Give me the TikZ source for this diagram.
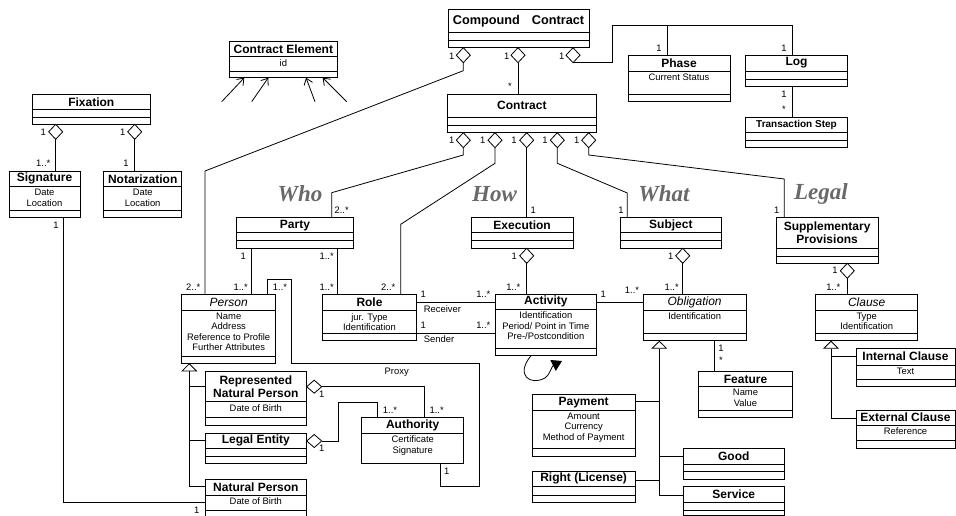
\documentclass[tikz,border=0pt]{standalone}
\usepackage{fontspec}
\setmainfont{Liberation Sans}
\newfontfamily\serifbi{Liberation Serif}
\usetikzlibrary{shapes.geometric,arrows.meta}
\definecolor{lblgray}{RGB}{105,105,105}
\newcounter{mlc}
\newcommand{\uml}[9]{%
  \node[box, minimum width={(#4)-(#2)}, minimum height={(#5)-(#3)}, anchor=north west] (#1) at (#2,#3) {};
  \draw[sepl] (#2,#6) -- (#4,#6);
  \draw[sepl] (#2,#7) -- (#4,#7);
  \node[ttl] (#1-t) at ({((#2)+(#4))/2},{((#3)+(#6))/2}) {#8};
  \node[att] (#1-a) at ({((#2)+(#4))/2},#6) {#9};
}
\newcommand{\dd}[3]{\node[dia,anchor=north] (#1) at (#2,#3) {};}
\newcommand{\ml}[3]{\stepcounter{mlc}\node[mult] (m\arabic{mlc}) at (#1,#2) {#3};}
\begin{document}
\begin{tikzpicture}[x=1pt,y=-1pt,
  box/.style={draw, line width=0.9pt, inner sep=0pt, outer sep=0pt, fill=white},
  sepl/.style={line width=0.8pt},
  ttl/.style={font=\fontsize{12}{13.3}\selectfont\bfseries, align=center, inner sep=0pt},
  att/.style={font=\fontsize{9.4}{10.4}\selectfont, align=center, anchor=north, inner xsep=0pt, inner ysep=2.6pt},
  mult/.style={font=\fontsize{9.4}{10}\selectfont, inner sep=0pt},
  conn/.style={line width=0.8pt},
  dia/.style={diamond, draw, fill=white, line width=0.8pt, inner sep=0pt, outer sep=0pt, minimum width=14pt, minimum height=15pt},
  hdia/.style={dia, minimum width=15pt, minimum height=13pt, anchor=west},
  gen/.style={conn, -{Triangle[open, length=8pt, width=16pt]}},
  nav/.style={conn, -{Straight Barb[length=6pt, width=9pt]}},
  loopa/.style={conn, -{Triangle[length=10pt, width=12pt]}},
  big/.style={font=\serifbi\fontsize{23}{25}\selectfont\bfseries\itshape, text=lblgray, inner sep=0pt}
]
\clip (0,0) rectangle (956,516);
\fill[white] (0,0) rectangle (956,516);

% ---------- classes ----------
\uml{cc}{448}{9.3}{589}{47.7}{32.3}{40}{\fontsize{12.7}{14}\selectfont Compound\hspace{12pt}Contract}{}
\uml{ce}{229}{41.7}{337.7}{77.7}{56.7}{71.3}{Contract Element}{id}
\uml{phase}{628}{55}{730}{101.7}{71}{94.3}{Phase}{Current Status}
\uml{log}{745.3}{55}{847.7}{86.7}{71}{79}{Log}{}
\uml{ts}{745.3}{117.3}{847.7}{147.7}{132.7}{140}{\fontsize{10}{12}\selectfont Transaction Step}{}
\uml{contract}{447.7}{94.3}{596}{132.7}{117.3}{125.3}{Contract}{}
\uml{fix}{32.3}{94.3}{150.3}{124.3}{109.3}{117.3}{Fixation}{}
\uml{sig}{9}{171}{80}{217.3}{186.7}{210}{Signature}{Date\\Location}
\uml{nota}{103.7}{171}{181.7}{217.3}{186.7}{210}{Notarization}{Date\\Location}
\uml{party}{236.7}{217.7}{353.3}{248.3}{232.7}{240.7}{Party}{}
\uml{exec}{471}{217.7}{573.3}{248.3}{232.7}{240.7}{Execution}{}
\uml{subj}{620}{217.7}{721.7}{248.3}{232.7}{240.7}{Subject}{}
\uml{supp}{776}{217.7}{878.3}{263.3}{248.3}{256}{Supplementary\\Provisions}{}
\uml{person}{181.7}{294.3}{275.7}{363.3}{310}{356}{\mdseries\itshape Person}{Name\\Address\\Reference to Profile\\Further Attributes}
\uml{role}{322.3}{294.3}{416.7}{340}{310.7}{333.3}{Role}{jur. Type\\Identification}
\uml{act}{495}{294.3}{596.7}{355.7}{309.3}{348.3}{Activity}{Identification\\Period/ Point in Time\\Pre-/Postcondition}
\uml{obl}{643.3}{294.3}{746}{340.7}{310}{333.3}{\mdseries\itshape Obligation}{Identification}
\uml{clause}{815.7}{294.3}{917.7}{340.7}{310}{333.3}{\mdseries\itshape Clause}{Type\\Identification}
\uml{rnp}{205}{371.7}{306.7}{425}{401.7}{417.3}{Represented\\Natural Person}{Date of Birth}
\uml{le}{205}{433.3}{306.7}{463.3}{448.3}{456}{Legal Entity}{}
\uml{np}{205}{479.3}{306.7}{522}{495}{510}{Natural Person}{Date of Birth}
\uml{auth}{361.7}{417.7}{463.7}{463.3}{433.3}{463.3}{Authority}{Certificate\\Signature}
\uml{feat}{698.3}{371.7}{792.7}{417.7}{386.7}{410}{Feature}{Name\\Value}
\uml{pay}{532.3}{394.3}{635}{456}{410}{448.3}{Payment}{Amount\\Currency\\Method of Payment}
\uml{right}{532.3}{471}{635}{502.3}{486.7}{495}{Right (License)}{}
\uml{good}{683.3}{448.3}{784.3}{479.3}{464.3}{471.7}{Good}{}
\uml{serv}{683.3}{486.7}{784.3}{515.5}{502.3}{510}{Service}{}
\uml{ic}{856}{348.3}{955}{386.7}{365}{379.3}{Internal Clause}{Text}
\uml{ec}{856}{410}{955}{448.3}{425}{440}{External Clause}{Reference}

% ---------- section headings ----------
\node[big] (who) at (300,194) {Who};
\node[big] (how) at (494.5,194) {How};
\node[big] (what) at (664,194) {What};
\node[big] (legal) at (821,194) {Legal};

% ---------- Compound Contract ----------
\coordinate (a1) at (463.3,70.7); \coordinate (a2) at (205,171);
\coordinate (b1) at (612,25); \coordinate (b2) at (667,25); \coordinate (b3) at (792,25);
\dd{dcc1}{463.3}{47.7}\dd{dcc2}{518}{47.7}\dd{dcc3}{573}{47.7}
\draw[conn] (dcc1.south) -- (a1) -- (a2) -- (a2 |- person.north);
\draw[conn] (dcc2.south) -- (dcc2.south |- contract.north);
\draw[conn] (dcc3.south) -| (b1) -- (b3) -- (b3 |- log.north);
\draw[conn] (b2) -- (b2 |- phase.north);
\draw[conn] (b3 |- log.south) -- (b3 |- ts.north);

% ---------- Contract ----------
\dd{dc1}{463.3}{132.7}\dd{dc2}{495}{132.7}\dd{dc3}{526.7}{132.7}\dd{dc4}{557.3}{132.7}\dd{dc5}{588.7}{132.7}
\coordinate (e1) at (463.3,155); \coordinate (e2) at (331.7,192.7);
\draw[conn] (dc1.south) -- (e1) -- (e2) -- (e2 |- party.north);
\coordinate (f1) at (495,163.3); \coordinate (f2) at (400.7,224.3);
\draw[conn] (dc2.south) -- (f1) -- (f2) -- (f2 |- role.north);
\draw[conn] (dc3.south) -- (dc3.south |- exec.north);
\coordinate (h1) at (557.3,163.3); \coordinate (h2) at (627.3,193);
\draw[conn] (dc4.south) -- (h1) -- (h2) -- (h2 |- subj.north);
\coordinate (i1) at (588.7,155); \coordinate (i2) at (784.3,179);
\draw[conn] (dc5.south) -- (i1) -- (i2) -- (i2 |- supp.north);

% ---------- Party ----------
\coordinate (pp) at (251.7,0); \coordinate (pr) at (337.7,0);
\draw[conn] (pp |- party.south) -- (pp |- person.north);
\draw[conn] (pr |- party.south) -- (pr |- role.north);

% ---------- Proxy ----------
\coordinate (x1) at (267.7,279); \coordinate (x2) at (291,279); \coordinate (x3) at (291,363.3);
\coordinate (x4) at (479.3,363.3); \coordinate (x5) at (479.3,486.7); \coordinate (x6) at (440,486.7);
\draw[conn] (x1 |- person.north) -- (x1) -- (x2) -- (x3) -- (x4) -- (x5) -- (x6) -- (x6 |- auth.south);

% ---------- Execution / Activity ----------
\dd{dex}{526.7}{248.3}
\draw[conn] (dex.south) -- (dex.south |- act.north);
\coordinate (r1) at (0,302.3); \coordinate (r2) at (0,333.3);
\draw[conn] (r1 -| role.east) -- (r1 -| act.west);
\draw[conn] (r2 -| role.east) -- (r2 -| act.west);
\draw[conn] (r1 -| act.east) -- (r1 -| obl.west);
\coordinate (lpe) at (562,361);
\draw[loopa] ([xshift=36pt]act.south west) .. controls (515,375) and (530,386) .. (545,378) .. controls (549,376) and (552,366) .. (lpe);

% ---------- Subject / Obligation ----------
\dd{dsu}{682.7}{248.3}
\draw[conn] (dsu.south) -- (dsu.south |- obl.north);
\coordinate (ft) at (714,0);
\draw[conn] (ft |- obl.south) -- (ft |- feat.north);
\coordinate (g2) at (659.3,495); \coordinate (g2a) at (659.3,401.7);
\coordinate (g2b) at (659.3,456.7); \coordinate (g2c) at (659.3,480);
\draw[gen] (g2) -- (g2 |- obl.south);
\draw[conn] (g2a) -- (g2a -| pay.east);
\draw[conn] (g2b) -- (g2b -| good.west);
\draw[conn] (g2c) -- (g2c -| right.east);
\draw[conn] (g2) -- (g2 -| serv.west);

% ---------- Supplementary / Clause ----------
\dd{dsp}{847.3}{263.3}
\draw[conn] (dsp.south) -- (dsp.south |- clause.north);
\coordinate (g3) at (831,418.3); \coordinate (g3a) at (831,356.7);
\draw[gen] (g3) -- (g3 |- clause.south);
\draw[conn] (g3a) -- (g3a -| ic.west);
\draw[conn] (g3) -- (g3 -| ec.west);

% ---------- Person generalization ----------
\coordinate (g1) at (189.3,486.7); \coordinate (g1a) at (189.3,386.7); \coordinate (g1b) at (189.3,440.7);
\draw[gen] (g1) -- (g1 |- person.south);
\draw[conn] (g1a) -- (g1a -| rnp.west);
\draw[conn] (g1b) -- (g1b -| le.west);
\draw[conn] (g1) -- (g1 -| np.west);

% ---------- Fixation ----------
\dd{dfx1}{55.7}{124.3}\dd{dfx2}{134.7}{124.3}
\draw[conn] (dfx1.south) -- (dfx1.south |- sig.north);
\draw[conn] (dfx2.south) -- (dfx2.south |- nota.north);
\coordinate (s1) at (63.3,502.3);
\draw[conn] (s1 |- sig.south) -- (s1) -- (s1 -| np.west);

% ---------- Authority ----------
\node[hdia] (drnp) at (306.7,386.7) {};
\node[hdia] (dle) at (306.7,441) {};
\coordinate (t1) at (424.3,386.7);
\draw[conn] (drnp.east) -- (t1) -- (t1 |- auth.north);
\coordinate (u1) at (338.3,441); \coordinate (u2) at (338.3,402.3); \coordinate (u3) at (377.3,402.3);
\draw[conn] (dle.east) -- (u1) -- (u2) -- (u3) -- (u3 |- auth.north);

% ---------- Contract Element arrows ----------
\coordinate (ce1) at (221.7,101.7); \coordinate (ce2) at (251.7,101.7);
\coordinate (ce3) at (315,101.7); \coordinate (ce4) at (346.7,101.7);
\draw[nav] (ce1) -- ([xshift=15.3pt]ce.south west);
\draw[nav] (ce2) -- ([xshift=39.3pt]ce.south west);
\draw[nav] (ce3) -- ([xshift=77pt]ce.south west);
\draw[nav] (ce4) -- ([xshift=93.7pt]ce.south west);

% ---------- multiplicities & labels ----------
\ml{451.7}{56.7}{1}\ml{506.7}{56.7}{1}\ml{561.7}{56.7}{1}\ml{510}{86}{*}
\ml{659}{48.3}{1}\ml{784}{48.3}{1}\ml{784}{94.3}{1}\ml{784}{109.3}{*}
\ml{451.7}{140.7}{1}\ml{482.7}{140.7}{1}\ml{514}{140.7}{1}\ml{545}{140.7}{1}\ml{576.7}{140.7}{1}
\ml{43.3}{132.7}{1}\ml{122.7}{132.7}{1}\ml{43.3}{163.3}{1..*}\ml{126}{163.3}{1}
\ml{56}{225}{1}\ml{196.7}{510}{1}
\ml{193.3}{287.3}{2..*}\ml{240.7}{287.3}{1..*}\ml{280}{287.3}{1..*}\ml{243.3}{256.7}{1}
\ml{341.7}{210}{2..*}\ml{326.7}{256.7}{1..*}\ml{326.7}{287.3}{1..*}\ml{388.3}{287.3}{2..*}
\ml{423.3}{294.3}{1}\ml{442.5}{309.3}{Receiver}\ml{483.3}{294.3}{1..*}
\ml{423.3}{325}{1}\ml{483.3}{325}{1..*}\ml{439}{339.3}{Sender}
\ml{533.3}{210}{1}\ml{514.3}{256.7}{1}\ml{513.3}{287.3}{1..*}
\ml{603.3}{294.3}{1}\ml{632}{290}{1..*}
\ml{621}{210}{1}\ml{670.7}{256.7}{1}\ml{671.7}{287.3}{1..*}
\ml{776.7}{210}{1}\ml{835}{270.7}{1}\ml{833.3}{287.3}{1..*}
\ml{721}{348.3}{1}\ml{721}{360}{*}
\ml{396.7}{372.3}{Proxy}\ml{446.7}{471}{1}
\ml{321.7}{394}{1}\ml{321.7}{448.3}{1}\ml{390}{410}{1..*}\ml{436.7}{410}{1..*}
\end{tikzpicture}
\end{document}
